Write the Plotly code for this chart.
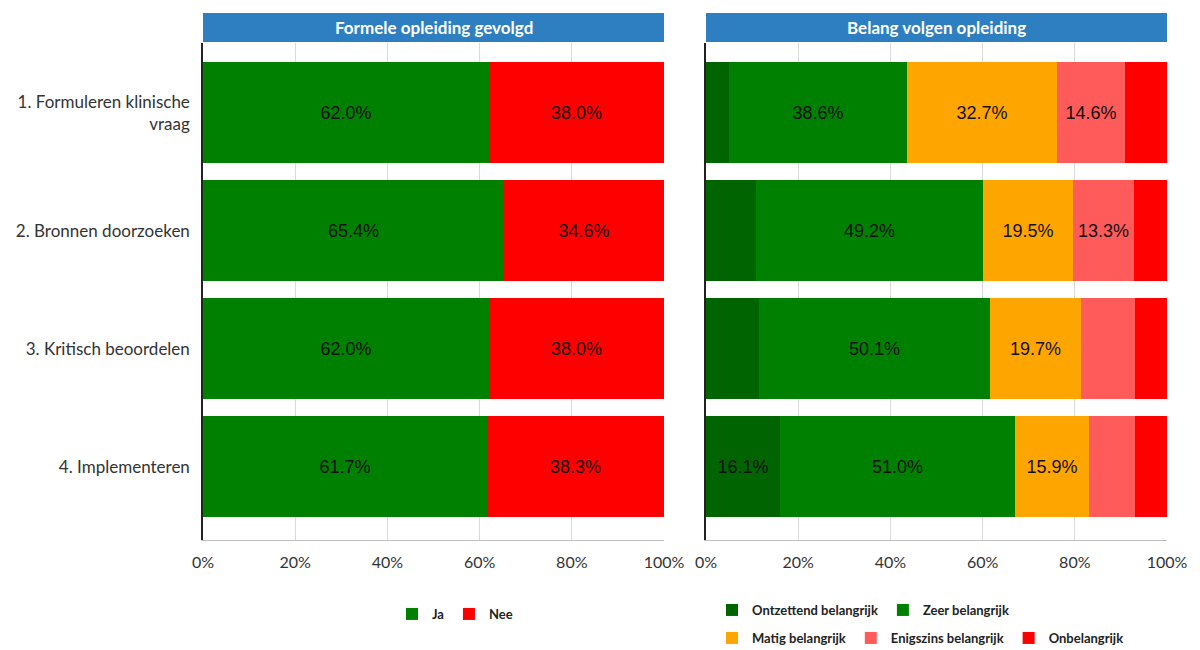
import plotly.graph_objects as go

categories = ["1. Formuleren klinische<br>vraag", "2. Bronnen doorzoeken",
              "3. Kritisch beoordelen", "4. Implementeren"]
positions = [0, 1, 2, 3]

# Left panel: Formele opleiding gevolgd
ja = [62.0, 65.4, 62.0, 61.7]
nee = [38.0, 34.6, 38.0, 38.3]

# Right panel: Belang volgen opleiding
ontzettend = [4.9, 10.8, 11.6, 16.1]
zeer = [38.6, 49.2, 50.1, 51.0]
matig = [32.7, 19.5, 19.7, 15.9]
enigszins = [14.6, 13.3, 11.6, 10.1]
onbelangrijk = [9.2, 7.2, 7.0, 6.9]

# which segment labels are printed in the reference
show_ontzettend = [False, False, False, True]
show_zeer = [True, True, True, True]
show_matig = [True, True, True, True]
show_enigszins = [True, True, False, False]
show_onbelangrijk = [False, False, False, False]

x_ticks = [0, 20, 40, 60, 80, 100]
x_ticktext = ["0%", "20%", "40%", "60%", "80%", "100%"]

C_DGREEN = "#006400"
C_GREEN = "#008000"
C_ORANGE = "#FFA500"
C_PINK = "#FF5B5B"
C_RED = "#FF0000"
C_HEADER = "#2E7FC1"

LEFT_DOM = [203 / 1200, 664 / 1200]
RIGHT_DOM = [706 / 1200, 1167 / 1200]
Y_DOM = [1 - 540 / 650, 1 - 43 / 650]

BAR_FONT = dict(family="Liberation Sans, Arial, sans-serif", size=18, color="#111111")


def labels(vals, mask=None):
    out = []
    for i, v in enumerate(vals):
        if mask is None or mask[i]:
            out.append(f"{v:.1f}%")
        else:
            out.append("")
    return out


fig = go.Figure()


def add_bar(vals, name, color, xaxis, yaxis, legend, text):
    fig.add_trace(go.Bar(
        x=vals, y=positions, orientation="h", name=name,
        marker=dict(color=color, line=dict(width=0)),
        width=0.856, text=text, textposition="inside",
        insidetextanchor="middle", textfont=BAR_FONT,
        textangle=0, xaxis=xaxis, yaxis=yaxis, legend=legend,
        hoverinfo="skip",
    ))


add_bar(ja, "Ja", C_GREEN, "x", "y", "legend", labels(ja))
add_bar(nee, "Nee", C_RED, "x", "y", "legend", labels(nee))

add_bar(ontzettend, "Ontzettend belangrijk", C_DGREEN, "x2", "y2", "legend2",
        labels(ontzettend, show_ontzettend))
add_bar(zeer, "Zeer belangrijk", C_GREEN, "x2", "y2", "legend2",
        labels(zeer, show_zeer))
add_bar(matig, "Matig belangrijk", C_ORANGE, "x2", "y2", "legend3",
        labels(matig, show_matig))
add_bar(enigszins, "Enigszins belangrijk", C_PINK, "x2", "y2", "legend3",
        labels(enigszins, show_enigszins))
add_bar(onbelangrijk, "Onbelangrijk", C_RED, "x2", "y2", "legend3",
        labels(onbelangrijk, show_onbelangrijk))

xaxis_common = dict(
    range=[0, 100], tickvals=x_ticks, ticktext=x_ticktext,
    showgrid=True, gridcolor="#D9D9D9", gridwidth=1,
    showline=True, linecolor="#BFBFBF", linewidth=1,
    zeroline=False, ticks="", fixedrange=True, ticklabelstandoff=8,
    tickfont=dict(family="Lato, sans-serif", size=16, color="#333333"),
)
yaxis_common = dict(
    range=[3.62, -0.59], tickvals=positions, ticktext=categories,
    showgrid=False, zeroline=False, showline=True, linecolor="#222222",
    linewidth=1.5, ticks="", fixedrange=True, ticklabelstandoff=8,
    tickfont=dict(family="Lato, sans-serif", size=17, color="#333333"),
)

legend_font = dict(family="Lato, sans-serif", size=13, color="#222222", weight="bold")

fig.update_layout(
    width=1200, height=650,
    margin=dict(l=0, r=0, t=0, b=0, autoexpand=False),
    paper_bgcolor="white", plot_bgcolor="white",
    barmode="stack", bargap=0,
    xaxis=dict(domain=LEFT_DOM, anchor="y", **xaxis_common),
    yaxis=dict(domain=Y_DOM, anchor="x", **yaxis_common),
    xaxis2=dict(domain=RIGHT_DOM, anchor="y2", **xaxis_common),
    yaxis2=dict(domain=Y_DOM, anchor="x2", showticklabels=False,
                **{k: v for k, v in yaxis_common.items() if k not in ("tickfont",)}),
    legend=dict(orientation="h", x=455 / 1200, xanchor="center",
                y=1 - 614 / 650, yanchor="middle", font=legend_font,
                itemwidth=30, traceorder="normal", bgcolor="rgba(0,0,0,0)"),
    legend2=dict(orientation="h", x=712 / 1200, xanchor="left",
                 y=1 - 610 / 650, yanchor="middle", font=legend_font,
                 itemwidth=30, traceorder="normal", bgcolor="rgba(0,0,0,0)"),
    legend3=dict(orientation="h", x=712 / 1200, xanchor="left",
                 y=1 - 638 / 650, yanchor="middle", font=legend_font,
                 itemwidth=30, traceorder="normal", bgcolor="rgba(0,0,0,0)"),
    showlegend=True,
    hovermode=False,
)

# Panel headers
headers = [("Formele opleiding gevolgd", LEFT_DOM), ("Belang volgen opleiding", RIGHT_DOM)]
for title, dom in headers:
    fig.add_shape(type="rect", xref="paper", yref="paper",
                  x0=dom[0], x1=dom[1], y0=1 - 42 / 650, y1=1 - 13 / 650,
                  fillcolor=C_HEADER, line=dict(width=0), layer="above")
    fig.add_annotation(text=title, xref="paper", yref="paper",
                       x=(dom[0] + dom[1]) / 2, y=1 - 27.5 / 650,
                       xanchor="center", yanchor="middle", showarrow=False,
                       font=dict(family="Lato, sans-serif", size=17, color="white",
                                 weight="bold"))

fig.write_html("out.html", config={"displayModeBar": False})
